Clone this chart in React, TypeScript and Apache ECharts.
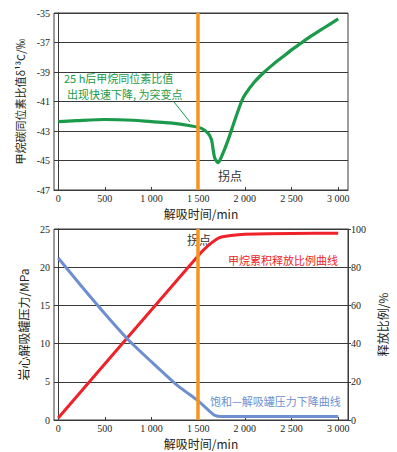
import React, { useEffect, useRef } from "react";
import * as echarts from "echarts";

const xTicks = [0, 500, 1000, 1500, 2000, 2500, 3000];
const isoTime = [0, 200, 500, 800, 1000, 1200, 1430, 1535, 1607, 1643, 1661, 1678, 1714, 1750, 1821, 1893, 1964, 2000, 2100, 2200, 2300, 2400, 2500, 2600, 2700, 2800, 2900, 3000];
const isoValue = [-42.37, -42.3, -42.22, -42.27, -42.37, -42.45, -42.66, -42.82, -43.16, -43.6, -44.3, -44.85, -45.15, -44.74, -43.6, -42.25, -41.0, -40.55, -39.7, -39.05, -38.5, -38.0, -37.5, -37.05, -36.6, -36.2, -35.8, -35.4];
const releaseTime = [0, 1500, 1600, 1700, 1750, 1850, 2000, 2500, 3000];
const releaseValue = [1, 86, 91, 94.8, 95.8, 96.6, 97.2, 97.7, 97.8];
const pressTime = [0, 250, 500, 750, 1000, 1250, 1400, 1500, 1600, 1680, 1750, 2000, 3000];
const pressValue = [21.2, 17.5, 13.9, 10.5, 7.6, 4.8, 3.4, 2.5, 1.4, 0.6, 0.45, 0.45, 0.45];
const mutationTime = 1500;

const SERIF = "'Liberation Serif', 'Noto Sans CJK SC', serif";
const CJK = "'Noto Sans CJK SC', 'Liberation Serif', sans-serif";
const TXT = "#231f20";
const GRID = "#3a3a3a";
const GREEN = "#1a9a4a";
const RED = "#ee2228";
const BLUE = "#6d8fd0";
const ORANGE = "#f7941d";

const fmt = (v: number) => {
  const s = String(Math.round(v));
  return s.length > 3 ? s.slice(0, s.length - 3) + " " + s.slice(-3) : s;
};

const xAxisCommon = (gridIndex: number) => ({
  type: "value",
  gridIndex,
  min: -45,
  max: 3105,
  name: "解吸时间/min",
  nameLocation: "middle",
  nameGap: 17,
  nameTextStyle: { fontFamily: CJK, fontSize: 12, color: TXT, lineHeight: 13 },
  axisLine: { show: true, lineStyle: { color: GRID, width: 1 } },
  axisTick: { show: true, inside: true, length: 3, customValues: xTicks, lineStyle: { color: GRID } },
  axisLabel: { customValues: xTicks, formatter: (v: number) => fmt(v), fontFamily: SERIF, fontSize: 10, color: TXT, margin: 3, lineHeight: 11 },
  splitLine: { show: false },
});

const orangeMark = {
  silent: true,
  symbol: "none",
  label: { show: false },
  lineStyle: { color: ORANGE, width: 3.5, type: "solid" },
  data: [{ xAxis: mutationTime }],
};

export default function App() {
  const ref = useRef<HTMLDivElement>(null);
  useEffect(() => {
    if (!ref.current) return;
    const chart = echarts.init(ref.current, null, { renderer: "svg" });
    chart.setOption({
      animation: false,
      backgroundColor: "#fff",
      grid: [
        { left: 54, top: 13, width: 294, height: 177, show: true, borderColor: GRID, borderWidth: 1 },
        { left: 54, top: 229, width: 294, height: 191, show: true, borderColor: GRID, borderWidth: 1 },
      ],
      xAxis: [xAxisCommon(0), xAxisCommon(1)],
      yAxis: [
        {
          type: "value", gridIndex: 0, min: -47, max: -35, interval: 2,
          name: "甲烷碳同位素比值δ¹³C/‰", nameLocation: "middle", nameGap: 21,
          nameTextStyle: { fontFamily: CJK, fontSize: 11, color: TXT },
          axisLine: { show: true, lineStyle: { color: GRID } },
          axisTick: { show: false },
          axisLabel: { fontFamily: SERIF, fontSize: 10, color: TXT, margin: 4 },
          splitLine: { show: true, lineStyle: { color: GRID, width: 1 } },
        },
        {
          type: "value", gridIndex: 1, min: 0, max: 25, interval: 5,
          name: "岩心解吸罐压力/MPa", nameLocation: "middle", nameGap: 17,
          nameTextStyle: { fontFamily: CJK, fontSize: 12, color: TXT },
          axisLine: { show: true, lineStyle: { color: GRID } },
          axisTick: { show: false },
          axisLabel: { fontFamily: SERIF, fontSize: 10, color: TXT, margin: 4 },
          splitLine: { show: true, lineStyle: { color: GRID, width: 1 } },
        },
        {
          type: "value", gridIndex: 1, position: "right", min: 0, max: 100, interval: 20,
          name: "释放比例/%", nameLocation: "middle", nameGap: 18, nameRotate: 90,
          nameTextStyle: { fontFamily: CJK, fontSize: 12, color: TXT },
          axisLine: { show: true, lineStyle: { color: GRID } },
          axisTick: { show: true, length: 3, lineStyle: { color: GRID } },
          axisLabel: { fontFamily: SERIF, fontSize: 10, color: TXT, margin: 3 },
          splitLine: { show: false },
        },
      ],
      series: [
        {
          type: "line", xAxisIndex: 0, yAxisIndex: 0,
          data: isoTime.map((t, i) => [t, isoValue[i]]),
          showSymbol: false, smooth: 0.25,
          lineStyle: { color: GREEN, width: 3.2 },
          markLine: orangeMark,
          z: 3,
        },
        {
          type: "line", xAxisIndex: 1, yAxisIndex: 2,
          data: releaseTime.map((t, i) => [t, releaseValue[i]]),
          showSymbol: false, smooth: 0.15,
          lineStyle: { color: RED, width: 3 },
          markLine: orangeMark,
          z: 3,
        },
        {
          type: "line", xAxisIndex: 1, yAxisIndex: 1,
          data: pressTime.map((t, i) => [t, pressValue[i]]),
          showSymbol: false, smooth: 0.2,
          lineStyle: { color: BLUE, width: 3 },
          z: 3,
        },
      ],
      graphic: [
        { type: "text", left: 64, top: 72, style: { text: "25 h后甲烷同位素比值", fill: GREEN, font: `11px ${CJK}` } },
        { type: "text", left: 67, top: 88, style: { text: "出现快速下降, 为突变点", fill: GREEN, font: `11px ${CJK}` } },
        { type: "line", shape: { x1: 174, y1: 102, x2: 190, y2: 122 }, style: { stroke: GREEN, lineWidth: 1 } },
        { type: "text", left: 218, top: 169, style: { text: "拐点", fill: "#333", font: `12px ${CJK}` } },
        { type: "text", left: 187, top: 233, style: { text: "拐点", fill: "#333", font: `12px ${CJK}` } },
        { type: "text", left: 228, top: 254, style: { text: "甲烷累积释放比例曲线", fill: RED, font: `11px ${CJK}` } },
        { type: "text", left: 210, top: 395, style: { text: "饱和—解吸罐压力下降曲线", fill: BLUE, font: `11px ${CJK}` } },
      ],
    });
    return () => chart.dispose();
  }, []);
  return <div ref={ref} style={{ width: 397, height: 452, position: "absolute", left: 0, top: 0 }} />;
}
